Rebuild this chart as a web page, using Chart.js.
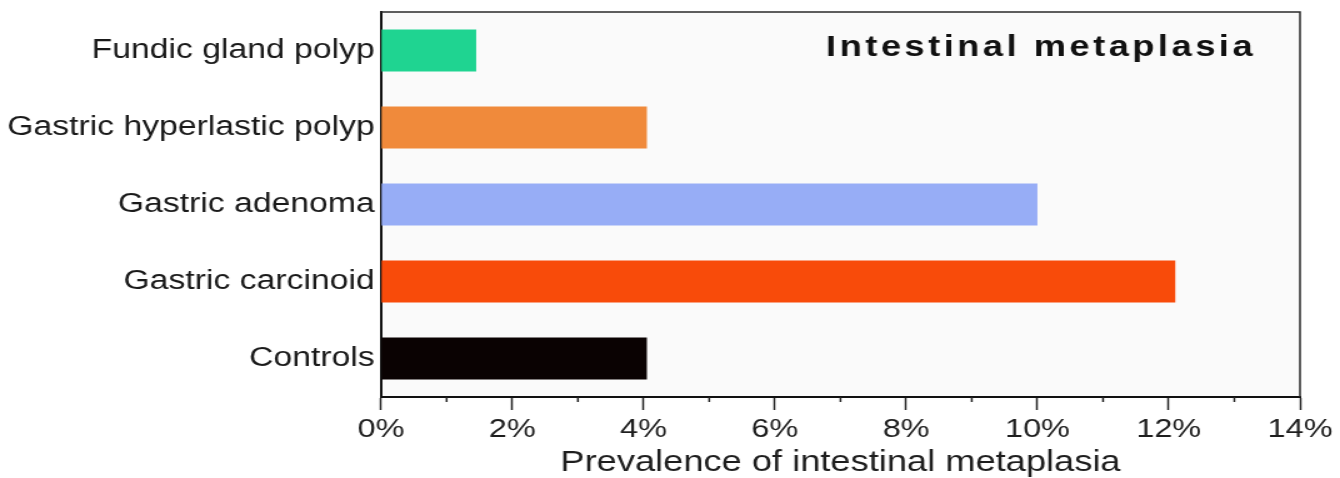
<!DOCTYPE html>
<html>
<head>
<meta charset="utf-8">
<script src="https://cdn.jsdelivr.net/npm/chart.js@4/dist/chart.umd.min.js"></script>
<style>
  html, body { margin: 0; padding: 0; background: #ffffff; }
  #wrap { width: 1340px; height: 478px; overflow: hidden; }
  #chart { display: block; }
</style>
</head>
<body>
<div id="wrap">
  <!-- the figure uses a wide (extended) sans face: the canvas is drawn narrow and widened -->
  <canvas id="chart" width="1072" height="478" style="width:1340px;height:478px;"></canvas>
</div>
<script>
// Prevalence of intestinal metaplasia by lesion type (%)
const categories = [
  'Fundic gland polyp',
  'Gastric hyperlastic polyp',
  'Gastric adenoma',
  'Gastric carcinoid',
  'Controls'
];
const prevalence = [1.45, 4.05, 10.0, 12.1, 4.05];
const barColors = ['#1fd491', '#f08a3b', '#97adf6', '#f84b0a', '#0a0202'];
const majorTicks = [0, 2, 4, 6, 8, 10, 12, 14];
const minorTicks = [1, 3, 5, 7, 9, 11, 13];
const panelTitle = 'Intestinal metaplasia';
const axisTitle = 'Prevalence of intestinal metaplasia';

const FONT = "'Liberation Sans', Arial, Helvetica, sans-serif";

// plot panel: light fill, top/right frame, minor x ticks and the in-panel title
const panelPlugin = {
  id: 'panel',
  beforeDraw(chart) {
    const { ctx, chartArea: a } = chart;
    ctx.save();
    ctx.fillStyle = '#fafafa';
    ctx.fillRect(a.left, a.top, a.right - a.left, a.bottom - a.top);
    ctx.restore();
  },
  afterDraw(chart) {
    const { ctx, chartArea: a } = chart;
    const xs = chart.scales.x;
    ctx.save();
    // frame top and right
    ctx.strokeStyle = '#2a2a2a';
    ctx.lineWidth = 1.5;
    ctx.beginPath();
    ctx.moveTo(a.left, a.top);
    ctx.lineTo(a.right, a.top);
    ctx.lineTo(a.right, a.bottom);
    ctx.stroke();
    // minor ticks
    ctx.strokeStyle = '#222222';
    ctx.lineWidth = 1.5;
    ctx.beginPath();
    minorTicks.forEach(v => {
      const x = xs.getPixelForValue(v);
      ctx.moveTo(x, a.bottom);
      ctx.lineTo(x, a.bottom + 5);
    });
    ctx.stroke();
    // panel title
    ctx.fillStyle = '#111111';
    ctx.font = "bold 29px " + FONT;
    if ('letterSpacing' in ctx) ctx.letterSpacing = '2.8px';
    ctx.textAlign = 'left';
    ctx.textBaseline = 'alphabetic';
    ctx.fillText(panelTitle, a.left + 356, a.top + 44);
    ctx.restore();
  }
};

new Chart(document.getElementById('chart'), {
  type: 'bar',
  data: {
    labels: categories,
    datasets: [{
      data: prevalence,
      backgroundColor: barColors,
      borderWidth: 0,
      barPercentage: 0.545,
      categoryPercentage: 1.0
    }]
  },
  plugins: [panelPlugin],
  options: {
    indexAxis: 'y',
    responsive: false,
    animation: false,
    devicePixelRatio: 1,
    layout: { padding: { top: 12, right: 32, bottom: 0, left: 0 } },
    plugins: {
      legend: { display: false },
      tooltip: { enabled: false },
      title: { display: false }
    },
    scales: {
      x: {
        type: 'linear',
        min: 0,
        max: 14,
        afterBuildTicks(scale) {
          scale.ticks = majorTicks.map(v => ({ value: v }));
        },
        afterFit(scale) {
          scale.height = 81;
          scale.paddingLeft = 0;
          scale.paddingRight = 0;
        },
        grid: {
          display: true,
          drawOnChartArea: false,
          drawTicks: true,
          tickLength: 13,
          tickColor: '#222222',
          tickWidth: 1.5,
          color: '#222222'
        },
        border: { display: true, color: '#111111', width: 2 },
        ticks: {
          color: '#1e1e1e',
          font: { family: FONT, size: 26 },
          padding: 4,
          maxRotation: 0,
          autoSkip: false,
          callback: v => v + '%'
        },
        title: {
          display: true,
          text: axisTitle,
          color: '#1e1e1e',
          font: { family: FONT, size: 29, lineHeight: 1 },
          padding: { top: 0, bottom: 1 }
        }
      },
      y: {
        type: 'category',
        afterFit(scale) {
          scale.width = 304.8;
          scale.paddingTop = 0;
          scale.paddingBottom = 0;
        },
        grid: { display: false, drawTicks: false },
        border: { display: true, color: '#111111', width: 2 },
        ticks: {
          color: '#1a1a1a',
          font: { family: FONT, size: 27 },
          padding: 5
        }
      }
    }
  }
});
</script>
</body>
</html>
